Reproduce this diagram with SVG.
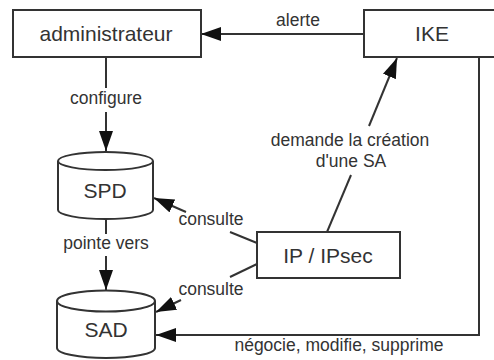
<svg xmlns="http://www.w3.org/2000/svg" width="494" height="360" viewBox="0 0 494 360">
  <style>
    .box { fill: #ffffff; stroke: #333333; stroke-width: 2; }
    .db { fill: #ffffff; stroke: #333333; stroke-width: 2; }
    .edge { fill: none; stroke: #333333; stroke-width: 2; }
    .node-label { font-family: "Liberation Sans", Arial, sans-serif; font-size: 21px; fill: #333333; text-anchor: middle; }
    .edge-label { font-family: "Liberation Sans", Arial, sans-serif; font-size: 17.5px; fill: #333333; text-anchor: middle; }
  </style>
  <defs>
    <marker id="arrow" viewBox="0 0 20 14" refX="20" refY="7" markerWidth="20" markerHeight="14" markerUnits="userSpaceOnUse" orient="auto">
      <path d="M0,0 L20,7 L0,14 z" fill="#111111"/>
    </marker>
  </defs>
  <rect width="494" height="360" fill="#ffffff"/>

  <!-- connectors -->
  <g id="connectors">
    <!-- IKE -> administrateur : alerte -->
    <line class="edge" x1="364" y1="34" x2="201" y2="34" marker-end="url(#arrow)"/>
    <!-- administrateur -> SPD : configure -->
    <line class="edge" x1="106" y1="57" x2="106" y2="88"/>
    <line class="edge" x1="106" y1="112" x2="106" y2="151" marker-end="url(#arrow)"/>
    <!-- SPD -> SAD : pointe vers -->
    <line class="edge" x1="106" y1="219" x2="106" y2="234"/>
    <line class="edge" x1="106" y1="256" x2="106" y2="290" marker-end="url(#arrow)"/>
    <!-- IP/IPsec -> SPD : consulte -->
    <line class="edge" x1="257" y1="243" x2="230" y2="232"/>
    <line class="edge" x1="186" y1="212" x2="154" y2="198" marker-end="url(#arrow)"/>
    <!-- IP/IPsec -> SAD : consulte -->
    <line class="edge" x1="257" y1="264" x2="230" y2="277"/>
    <line class="edge" x1="181" y1="300" x2="156" y2="312" marker-end="url(#arrow)"/>
    <!-- IP/IPsec -> IKE : demande la création d'une SA -->
    <line class="edge" x1="327" y1="232" x2="351" y2="175"/>
    <line class="edge" x1="369" y1="126" x2="397" y2="58" marker-end="url(#arrow)"/>
    <!-- IKE -> SAD : négocie, modifie, supprime -->
    <path class="edge" d="M479,57 V335 H156" marker-end="url(#arrow)"/>

    <text class="edge-label" x="298" y="26">alerte</text>
    <text class="edge-label" x="106" y="104">configure</text>
    <text class="edge-label" x="106" y="249">pointe vers</text>
    <text class="edge-label" x="211" y="225">consulte</text>
    <text class="edge-label" x="211" y="295">consulte</text>
    <text class="edge-label" x="350" y="146">demande la création</text>
    <text class="edge-label" x="351" y="167">d'une SA</text>
    <text class="edge-label" x="339" y="351">négocie, modifie, supprime</text>
  </g>

  <!-- administrateur -->
  <g id="administrateur">
    <rect class="box" x="13" y="10" width="188" height="47"/>
    <text class="node-label" x="106" y="41">administrateur</text>
  </g>

  <!-- IKE (box runs past the right edge) -->
  <g id="ike">
    <rect class="box" x="364" y="10" width="140" height="47"/>
    <text class="node-label" x="432" y="41">IKE</text>
  </g>

  <!-- SPD database -->
  <g id="spd">
    <path class="db" d="M58,161 V210 A47.5,9 0 0 0 153,210 V161"/>
    <ellipse class="db" cx="105.5" cy="161" rx="47.5" ry="9"/>
    <text class="node-label" x="105" y="198">SPD</text>
  </g>

  <!-- SAD database -->
  <g id="sad">
    <path class="db" d="M57,301 V348 A49,10 0 0 0 155,348 V301"/>
    <ellipse class="db" cx="106" cy="301" rx="49" ry="10.5"/>
    <text class="node-label" x="106" y="337">SAD</text>
  </g>

  <!-- IP / IPsec -->
  <g id="ip-ipsec">
    <rect class="box" x="257" y="232" width="143" height="46"/>
    <text class="node-label" x="328" y="263">IP / IPsec</text>
  </g>
</svg>
